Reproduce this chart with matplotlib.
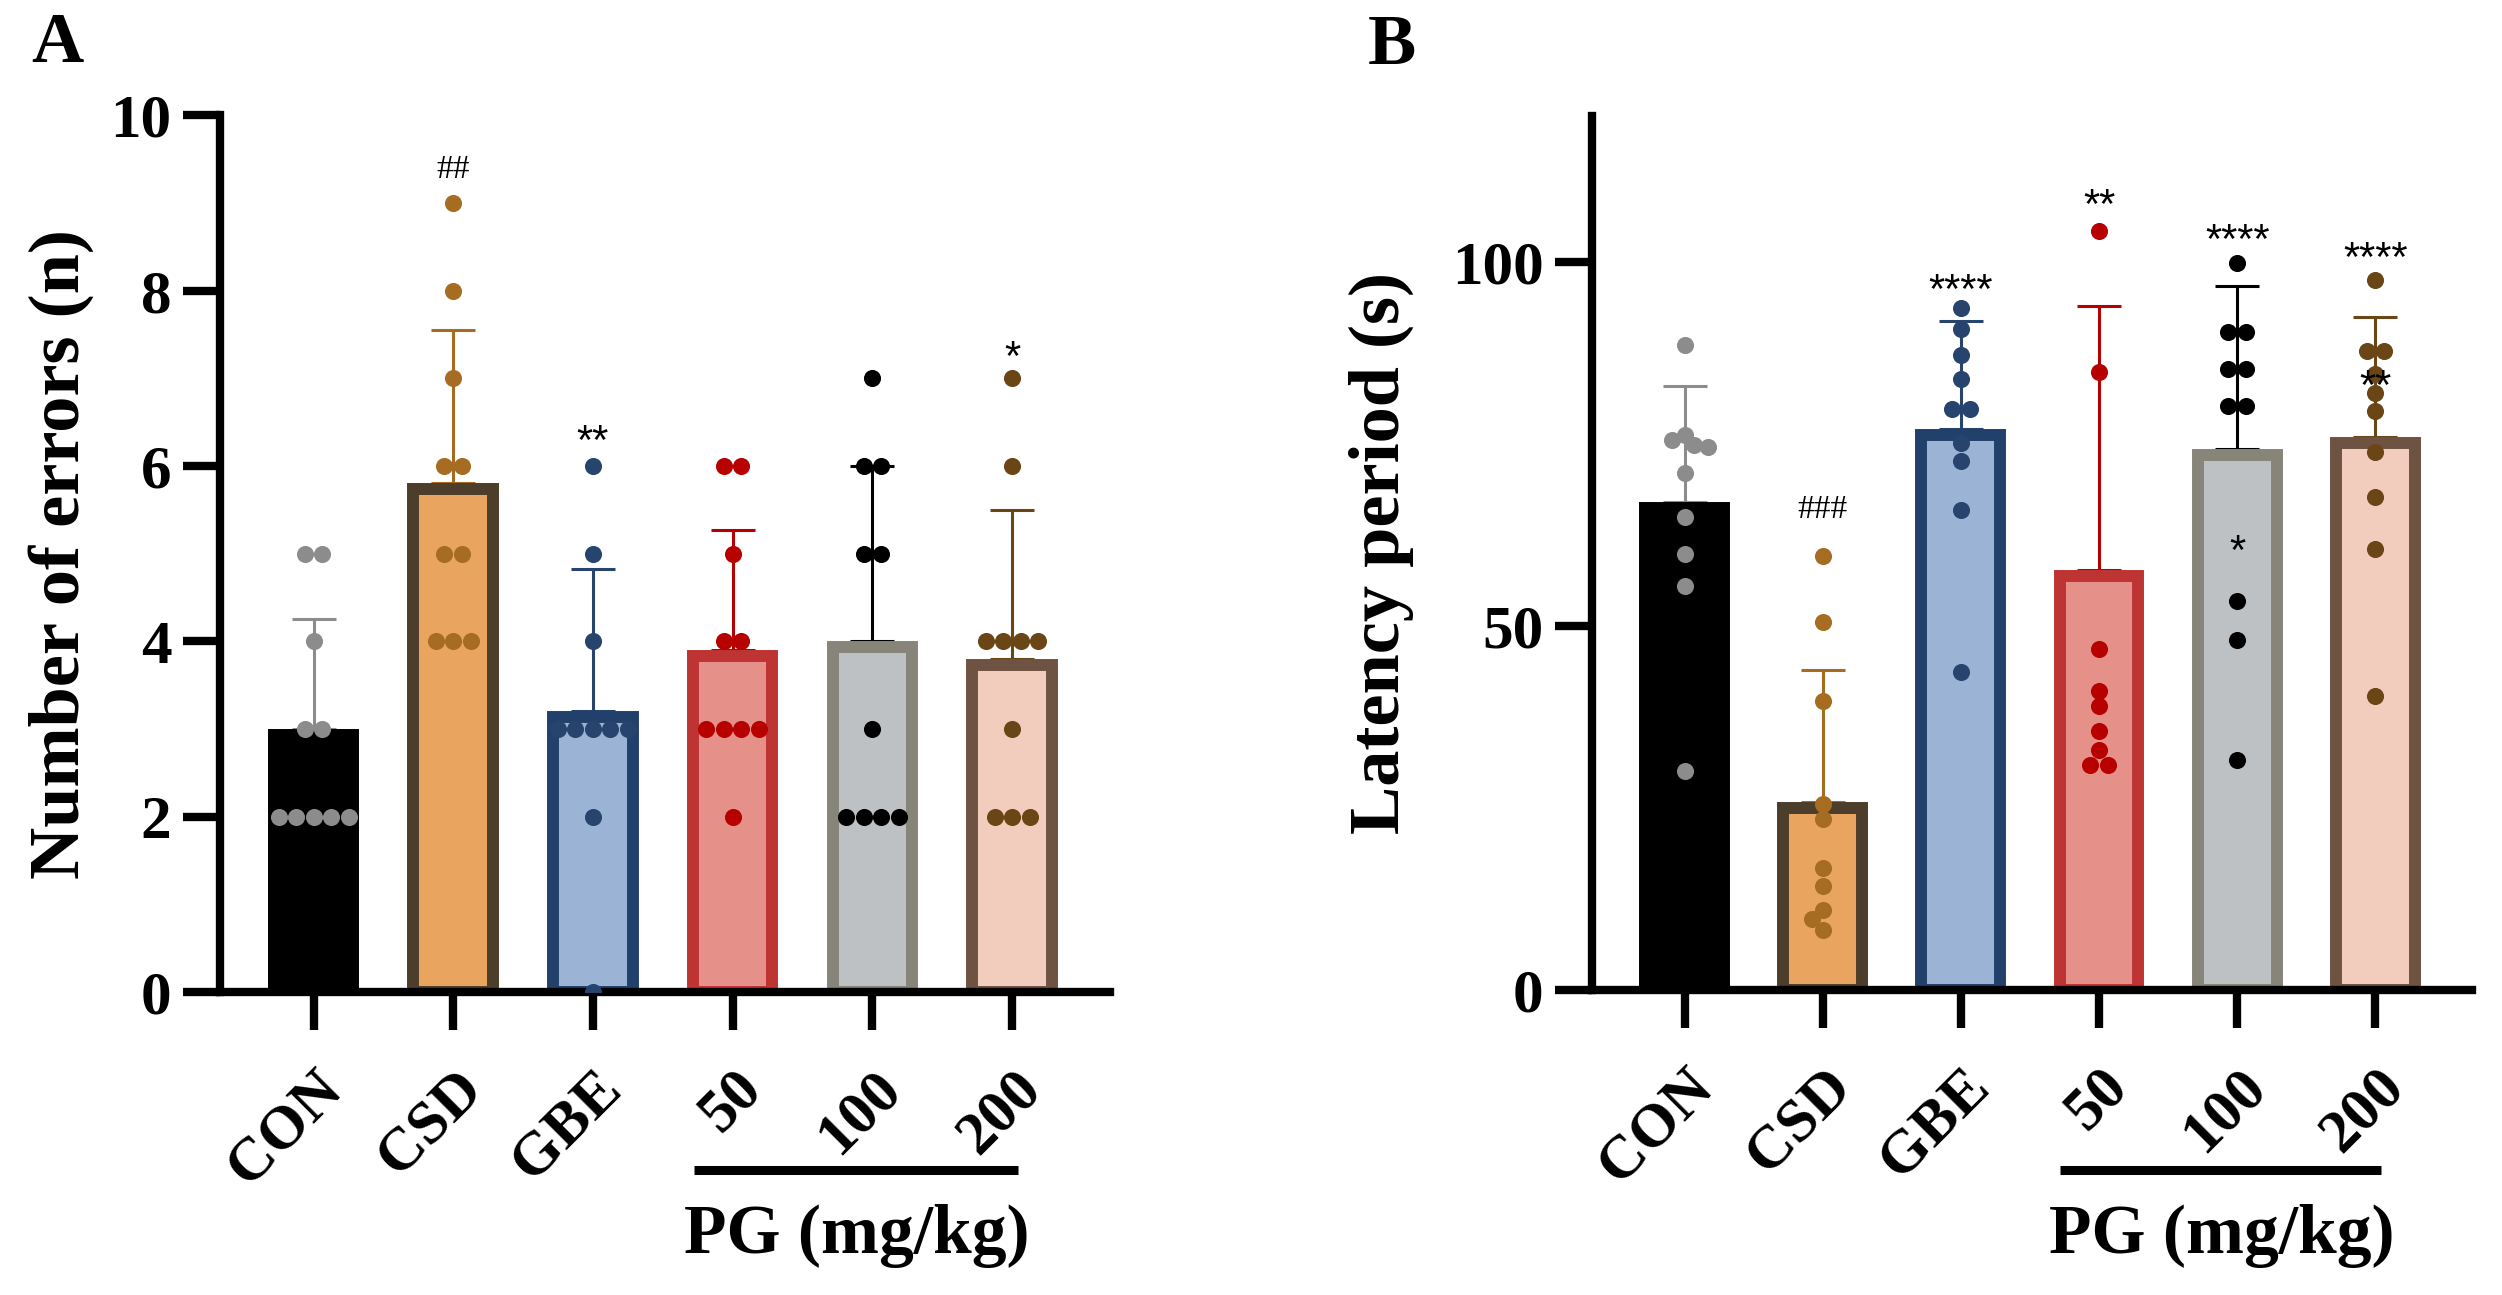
import math
import matplotlib
matplotlib.use("Agg")
import matplotlib.pyplot as plt
from matplotlib import transforms

SERIF = ["Liberation Serif", "DejaVu Serif"]
SANS = ["Liberation Sans", "DejaVu Sans"]

groups = ["CON", "CSD", "GBE", "50", "100", "200"]

# panel A - number of errors, one list per group
errors_con = [5, 5, 4, 3, 3, 2, 2, 2, 2, 2]
errors_csd = [9, 8, 7, 6, 6, 5, 5, 4, 4, 4]
errors_gbe = [6, 5, 4, 3, 3, 3, 3, 3, 2, 0]
errors_50 = [6, 6, 5, 4, 4, 3, 3, 3, 3, 2]
errors_100 = [7, 6, 6, 5, 5, 3, 2, 2, 2, 2]
errors_200 = [7, 6, 4, 4, 4, 4, 3, 2, 2, 2]
errors_mean = [3.0, 5.8, 3.2, 3.9, 4.0, 3.8]
errors_sd = [1.25, 1.75, 1.63, 1.37, 2.0, 1.7]
errors_marks = [("##", 1, 9.41), ("**", 2, 6.41), ("*", 5, 7.37)]

# panel B - latency period (s)
latency_con = [88.6, 76.2, 75.5, 74.8, 74.5, 71.0, 65.0, 59.8, 55.5, 30.1]
latency_csd = [59.6, 50.5, 39.7, 25.5, 23.5, 16.7, 14.3, 11.0, 9.8, 8.2]
latency_gbe = [93.6, 90.8, 87.2, 83.9, 79.8, 79.8, 75.1, 72.6, 65.9, 43.7]
latency_50 = [104.2, 84.9, 46.8, 41.0, 39.0, 35.6, 33.0, 30.9, 30.9]
latency_100 = [99.8, 90.4, 90.4, 85.2, 85.2, 80.2, 80.2, 53.4, 48.1, 31.6]
latency_200 = [97.5, 87.7, 87.7, 84.5, 82.0, 79.5, 73.9, 67.7, 60.5, 40.3]
latency_mean = [67.0, 25.8, 77.0, 57.6, 74.3, 75.9]
latency_sd = [15.9, 18.2, 14.8, 36.3, 22.3, 16.5]
latency_marks = [("###", 1, 66.4), ("****", 2, 97.6), ("**", 3, 109.3),
                 ("****", 4, 104.5), ("****", 5, 102.0), ("**", 5, 84.4),
                 ("*", 4, 61.8)]

bar_fill = ["#000000", "#e9a55f", "#9bb3d4", "#e5918a", "#bdc1c4", "#f2cdbd"]
bar_edge = ["#000000", "#4d3d2b", "#21416c", "#be3432", "#878579", "#6e5343"]
dot_color = ["#8c8c8c", "#a66d22", "#27446f", "#b70000", "#000000", "#6a4515"]

plt.rcParams["font.family"] = SERIF
plt.rcParams["font.weight"] = "bold"

EDGE_LW = 8.6  # points


def swarmOffsets(ax, values, rowStep=17.5, minDist=14.0):
    # beeswarm in pixel space; equal values get a centred row
    p0 = ax.transData.transform((0, 0))
    p1 = ax.transData.transform((1, 1))
    xScale = p1[0] - p0[0]
    yScale = p1[1] - p0[1]
    offsets = [0.0] * len(values)
    placed = []
    for v in sorted(set(values), reverse=True):
        idx = [i for i, w in enumerate(values) if w == v]
        k = len(idx)
        rel = [(j - (k - 1) / 2.0) * rowStep for j in range(k)]
        y = v * yScale
        cands = [0.0]
        for (px, py) in placed:
            dy = abs(y - py)
            if dy < minDist:
                dx = math.sqrt(minDist ** 2 - dy ** 2)
                for r in rel:
                    cands.append(px + dx - r)
                    cands.append(px - dx - r)

        def ok(c):
            for (px, py) in placed:
                for r in rel:
                    if (c + r - px) ** 2 + (y - py) ** 2 < minDist ** 2 - 1e-6:
                        return False
            return True

        best = min([c for c in cands if ok(c)], key=lambda c: (abs(c), c))
        for j, i in enumerate(idx):
            offsets[i] = (best + rel[j]) / xScale
            placed.append((best + rel[j], y))
    return offsets


def drawPanel(fig, ax, points, means, sds, marks, ylim, yticks, ylabel, labelX):
    ax.set_xlim(-0.67, 5.7)
    ax.set_ylim(*ylim)
    ax.set_yticks(yticks)
    ax.set_xticks(range(len(groups)))
    ax.set_xticklabels(groups, rotation=45, ha="right", va="top",
                       rotation_mode="anchor")
    for s in ["top", "right"]:
        ax.spines[s].set_visible(False)
    for s in ["left", "bottom"]:
        ax.spines[s].set_linewidth(6)
    ax.tick_params(length=27, width=6, direction="out", labelsize=44)
    ax.tick_params(axis="y", pad=8)
    ax.tick_params(axis="x", pad=22)

    ax.set_ylabel(ylabel, fontsize=52, fontweight="bold", va="center")
    ax.yaxis.set_label_coords(labelX, 0.5)

    # keep the thick bar outline inside the mean, like the original
    yScale = ax.transData.transform((0, 1))[1] - ax.transData.transform((0, 0))[1]
    inset = EDGE_LW * fig.dpi / 72 / 2 / yScale

    for i in range(len(groups)):
        bars = ax.bar(i, means[i] - inset, width=0.57, color=bar_fill[i],
                      edgecolor=bar_edge[i], linewidth=EDGE_LW, zorder=2)
        for b in bars:
            b.set_joinstyle("miter")
        ax.errorbar(i, means[i], yerr=[[0], [sds[i]]], fmt="none",
                    ecolor=dot_color[i], elinewidth=2.2, capsize=16,
                    capthick=2.2, zorder=1.5)
        offs = swarmOffsets(ax, points[i])
        ax.plot([i + o for o in offs], points[i], "o", ms=12.3, mew=0,
                color=dot_color[i], zorder=3)

    for text, i, y in marks:
        if "#" in text:
            ax.annotate(text, (i, y), xytext=(0, -0.34 * 24), textcoords="offset points",
                        ha="center", va="baseline", fontsize=24,
                        fontweight="normal", zorder=5)
        else:
            ax.annotate(text, (i, y), xytext=(0, -0.58 * 30), textcoords="offset points",
                        ha="center", va="baseline", fontsize=30,
                        family=SANS, fontweight="normal", zorder=5)

    # PG dose bracket below the tick labels
    blend = transforms.blended_transform_factory(ax.transData, fig.transFigure)
    ax.plot([2.72, 5.04], [0.0965, 0.0965], color="black", lw=6.5,
            transform=blend, clip_on=False, solid_capstyle="butt")
    ax.text(3.89, 0.0456, "PG (mg/kg)", transform=blend, ha="center",
            va="center", fontsize=50, fontweight="bold")


fig = plt.figure(figsize=(25.02, 12.95), dpi=100)
axA = fig.add_axes([0.0879, 0.234, 0.3557, 0.677])
axB = fig.add_axes([0.6363, 0.2355, 0.3517, 0.675])

drawPanel(fig, axA,
          [errors_con, errors_csd, errors_gbe, errors_50, errors_100, errors_200],
          errors_mean, errors_sd, errors_marks, (0, 10), [0, 2, 4, 6, 8, 10],
          "Number of errors (n)", -0.178)
drawPanel(fig, axB,
          [latency_con, latency_csd, latency_gbe, latency_50, latency_100, latency_200],
          latency_mean, latency_sd, latency_marks, (0, 120), [0, 50, 100],
          "Latency period (s)", -0.239)

fig.text(57 / 2502, 1 - 44 / 1295, "A", fontsize=52, fontweight="bold",
         ha="center", va="center")
fig.text(1392 / 2502, 1 - 47 / 1295, "B", fontsize=52, fontweight="bold",
         ha="center", va="center")

fig.savefig("out.png", dpi=100)
